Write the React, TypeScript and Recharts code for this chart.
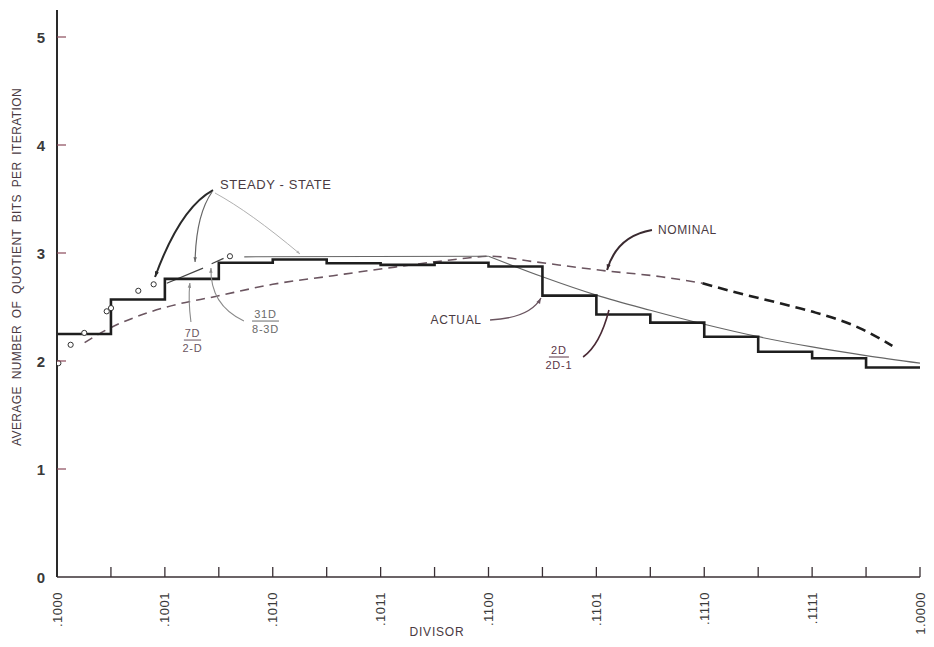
import React from "react";
import { ComposedChart, Line, Scatter, XAxis, YAxis } from "recharts";

/** Quotient bits per iteration vs divisor — step curve, bounds, nominal estimate. */

const W = 934;
const H = 647;
const PLOT = { left: 57, right: 920, top: 10, bottom: 577 };
const X_MIN = 0.5;
const X_MAX = 1.0;
const Y_MAX = 5.25;

// axis ticks (binary fractions of the divisor)
const majorTicks = [0.5, 0.5625, 0.625, 0.6875, 0.75, 0.8125, 0.875, 0.9375, 1.0];
const majorLabels = [".1000", ".1001", ".1010", ".1011", ".1100", ".1101", ".1110", ".1111", "1.0000"];
const minorTicks = [0.53125, 0.59375, 0.65625, 0.71875, 0.78125, 0.84375, 0.90625, 0.96875];
const yTicks = [0, 1, 2, 3, 4, 5];

// actual (step) curve — value holds from each divisor to the next
const actualSteps = [
  { d: 0.5, v: 2.25 },
  { d: 0.53125, v: 2.57 },
  { d: 0.5625, v: 2.76 },
  { d: 0.59375, v: 2.91 },
  { d: 0.625, v: 2.94 },
  { d: 0.65625, v: 2.905 },
  { d: 0.6875, v: 2.89 },
  { d: 0.71875, v: 2.91 },
  { d: 0.75, v: 2.875 },
  { d: 0.78125, v: 2.605 },
  { d: 0.8125, v: 2.43 },
  { d: 0.84375, v: 2.355 },
  { d: 0.875, v: 2.225 },
  { d: 0.90625, v: 2.085 },
  { d: 0.9375, v: 2.025 },
  { d: 0.96875, v: 1.94 },
  { d: 1.0, v: 1.94 },
];

// 2D/(2D-1) bound, right half
const boundRight = [
  { d: 0.75, v: 2.97 },
  { d: 0.78125, v: 2.78 },
  { d: 0.8125, v: 2.61 },
  { d: 0.84375, v: 2.47 },
  { d: 0.875, v: 2.34 },
  { d: 0.90625, v: 2.225 },
  { d: 0.9375, v: 2.13 },
  { d: 0.96875, v: 2.05 },
  { d: 1.0, v: 1.98 },
];

// flat steady-state bound, middle
const boundFlat = [
  { d: 0.6085, v: 2.965 },
  { d: 0.75, v: 2.97 },
];

// 7D/(2-D) and 31D/(8-3D) short segments
const bound7D = [
  { d: 0.5636, v: 2.72 },
  { d: 0.5846, v: 2.86 },
];
const bound31D = [
  { d: 0.5896, v: 2.9 },
  { d: 0.5965, v: 2.95 },
];

// steady-state points (circles)
const steadyPoints = [
  { d: 0.5008, v: 1.98 },
  { d: 0.5079, v: 2.15 },
  { d: 0.5158, v: 2.26 },
  { d: 0.5288, v: 2.46 },
  { d: 0.5313, v: 2.49 },
  { d: 0.5471, v: 2.65 },
  { d: 0.556, v: 2.71 },
  { d: 0.6002, v: 2.97 },
];

// nominal (dashed), split where the pen gets heavier
const nominalA = [
  { d: 0.516, v: 2.17 },
  { d: 0.53, v: 2.3 },
  { d: 0.546, v: 2.41 },
  { d: 0.5635, v: 2.5 },
  { d: 0.5925, v: 2.6 },
  { d: 0.625, v: 2.71 },
  { d: 0.66, v: 2.79 },
  { d: 0.689, v: 2.855 },
  { d: 0.728, v: 2.935 },
  { d: 0.751, v: 2.97 },
  { d: 0.776, v: 2.92 },
  { d: 0.815, v: 2.84 },
  { d: 0.85, v: 2.78 },
  { d: 0.874, v: 2.72 },
];
const nominalB = [
  { d: 0.874, v: 2.72 },
  { d: 0.897, v: 2.62 },
  { d: 0.92, v: 2.53 },
  { d: 0.938, v: 2.455 },
  { d: 0.965, v: 2.305 },
  { d: 0.984, v: 2.14 },
];

// callouts: quadratic curves in data units
const callouts = [
  { from: [0.5904, 3.583], ctrl: [0.5713, 3.417], to: [0.5568, 2.778], color: "#2a2a2a", width: 2, head: 6 },
  { from: [0.5898, 3.565], ctrl: [0.5805, 3.352], to: [0.58, 2.917], color: "#666", width: 1.2, head: 5 },
  { from: [0.5915, 3.556], ctrl: [0.6118, 3.38], to: [0.6408, 2.991], color: "#b0b0b0", width: 1, head: 4 },
  { from: [0.5776, 2.361], ctrl: [0.5759, 2.565], to: [0.577, 2.722], color: "#8a8a8a", width: 1.1, head: 5 },
  { from: [0.6083, 2.37], ctrl: [0.5886, 2.519], to: [0.5892, 2.861], color: "#8a8a8a", width: 1.1, head: 5 },
  { from: [0.7509, 2.38], ctrl: [0.774, 2.398], to: [0.7804, 2.583], color: "#6a5560", width: 1.4, head: 6 },
  { from: [0.8048, 2.037], ctrl: [0.8146, 2.148], to: [0.8198, 2.472], color: "#4a2a35", width: 1.6, head: 0 },
  { from: [0.8447, 3.213], ctrl: [0.8244, 3.157], to: [0.8187, 2.843], color: "#3a2a30", width: 2, head: 6 },
];

const notes = [
  { text: "STEADY - STATE", at: [0.5944, 3.63], anchor: "start", size: 13 },
  { text: "ACTUAL", at: [0.7312, 2.38], anchor: "middle", size: 12 },
  { text: "NOMINAL", at: [0.8482, 3.213], anchor: "start", size: 12 },
];

const fractions = [
  { num: "7D", den: "2-D", at: [0.5785, 2.194], half: 0.005, color: "#6a5560" },
  { num: "31D", den: "8-3D", at: [0.6208, 2.37], half: 0.0078, color: "#6a6a6a" },
  { num: "2D", den: "2D-1", at: [0.7908, 2.037], half: 0.0058, color: "#5a3545" },
];

const FONT = "'Liberation Sans', Arial, sans-serif";
const INK = "#4a3a42";

const sx = (d: number) => PLOT.left + ((d - X_MIN) / (X_MAX - X_MIN)) * (PLOT.right - PLOT.left);
const sy = (v: number) => PLOT.bottom - (v / Y_MAX) * (PLOT.bottom - PLOT.top);

function XTick({ x, y, payload }: any) {
  const i = majorTicks.indexOf(payload.value);
  return (
    <g>
      {payload.value > X_MIN && (
        <line x1={x} x2={x} y1={y} y2={y - 10} stroke="#3a3035" strokeWidth={1.3} />
      )}
      {i >= 0 && (
        <text
          transform={`translate(${x},${y + 15}) rotate(-90)`}
          textAnchor="end"
          dominantBaseline="central"
          fontFamily={FONT}
          fontSize={13}
          letterSpacing={0.5}
          fill="#3a3a3a"
        >
          {majorLabels[i]}
        </text>
      )}
    </g>
  );
}

function YTick({ x, y, payload }: any) {
  return (
    <g>
      {payload.value > 0 && (
        <line x1={x} x2={x + 9} y1={y} y2={y} stroke="#8a4a5a" strokeWidth={1.2} />
      )}
      <text
        x={x - 16}
        y={y}
        textAnchor="middle"
        dominantBaseline="central"
        fontFamily={FONT}
        fontSize={15}
        fontWeight="bold"
        fill="#3a3a3a"
      >
        {payload.value}
      </text>
    </g>
  );
}

function Circle(props: any) {
  return <circle cx={props.cx} cy={props.cy} r={2.6} fill="#fff" stroke="#333" strokeWidth={1} />;
}

function Overlay() {
  return (
    <svg width={W} height={H} style={{ position: "absolute", left: 0, top: 0, pointerEvents: "none" }}>
      {callouts.map((c, k) => {
        const [x0, y0] = [sx(c.from[0]), sy(c.from[1])];
        const [cx, cy] = [sx(c.ctrl[0]), sy(c.ctrl[1])];
        const [x1, y1] = [sx(c.to[0]), sy(c.to[1])];
        const a = Math.atan2(y1 - cy, x1 - cx);
        const h = c.head;
        return (
          <g key={k}>
            <path d={`M${x0},${y0}Q${cx},${cy} ${x1},${y1}`} fill="none" stroke={c.color} strokeWidth={c.width} />
            {h > 0 && (
              <path
                d={`M${x1},${y1}L${x1 - h * Math.cos(a - 0.35)},${y1 - h * Math.sin(a - 0.35)}L${
                  x1 - h * Math.cos(a + 0.35)
                },${y1 - h * Math.sin(a + 0.35)}Z`}
                fill={c.color}
              />
            )}
          </g>
        );
      })}
      {notes.map((n) => (
        <text
          key={n.text}
          x={sx(n.at[0])}
          y={sy(n.at[1])}
          textAnchor={n.anchor as any}
          dominantBaseline="central"
          fontFamily={FONT}
          fontSize={n.size}
          letterSpacing={0.6}
          fill={INK}
        >
          {n.text}
        </text>
      ))}
      {fractions.map((f) => {
        const x = sx(f.at[0]);
        const y = sy(f.at[1]);
        return (
          <g key={f.num} fill={f.color} fontFamily={FONT} fontSize={11} letterSpacing={0.8}>
            <text x={x} y={y - 7} textAnchor="middle" dominantBaseline="central">{f.num}</text>
            <line x1={sx(f.at[0] - f.half)} x2={sx(f.at[0] + f.half)} y1={y} y2={y} stroke={f.color} strokeWidth={1} />
            <text x={x} y={y + 8} textAnchor="middle" dominantBaseline="central">{f.den}</text>
          </g>
        );
      })}
      <text
        transform={`translate(17,267) rotate(-90)`}
        textAnchor="middle"
        dominantBaseline="central"
        fontFamily={FONT}
        fontSize={12}
        letterSpacing={0.4}
        wordSpacing={3}
        fill={INK}
      >
        AVERAGE NUMBER OF QUOTIENT BITS PER ITERATION
      </text>
      <text x={437} y={632} textAnchor="middle" dominantBaseline="central" fontFamily={FONT} fontSize={12} letterSpacing={0.8} fill={INK}>
        DIVISOR
      </text>
    </svg>
  );
}

export default function App() {
  return (
    <div style={{ position: "absolute", left: 0, top: 0, width: W, height: H, background: "#fff" }}>
      <ComposedChart
        width={W}
        height={H}
        margin={{ top: PLOT.top, right: W - PLOT.right, bottom: 0, left: 0 }}
      >
        <XAxis
          dataKey="d"
          type="number"
          domain={[X_MIN, X_MAX]}
          ticks={[...majorTicks, ...minorTicks].sort((a, b) => a - b)}
          height={H - PLOT.bottom}
          tickSize={0}
          tickMargin={0}
          tick={<XTick />}
          axisLine={{ stroke: "#3a3035", strokeWidth: 1.5 }}
          allowDataOverflow
        />
        <YAxis
          dataKey="v"
          type="number"
          domain={[0, Y_MAX]}
          ticks={yTicks}
          width={PLOT.left}
          tickSize={0}
          tickMargin={0}
          tick={<YTick />}
          axisLine={{ stroke: "#2a2a2a", strokeWidth: 2 }}
          allowDataOverflow
        />
        <Line data={nominalA} dataKey="v" type="monotone" stroke="#6b5560" strokeWidth={1.6} strokeDasharray="9 6" dot={false} isAnimationActive={false} />
        <Line data={nominalB} dataKey="v" type="monotone" stroke="#1e1e1e" strokeWidth={2.6} strokeDasharray="10 6" dot={false} isAnimationActive={false} />
        <Line data={boundFlat} dataKey="v" type="linear" stroke="#666" strokeWidth={1.2} dot={false} isAnimationActive={false} />
        <Line data={boundRight} dataKey="v" type="monotone" stroke="#666" strokeWidth={1.2} dot={false} isAnimationActive={false} />
        <Line data={bound7D} dataKey="v" type="linear" stroke="#444" strokeWidth={1.2} dot={false} isAnimationActive={false} />
        <Line data={bound31D} dataKey="v" type="linear" stroke="#444" strokeWidth={1.2} dot={false} isAnimationActive={false} />
        <Line data={actualSteps} dataKey="v" type="stepAfter" stroke="#1e1e1e" strokeWidth={2.6} dot={false} isAnimationActive={false} />
        <Scatter data={steadyPoints} dataKey="v" shape={<Circle />} isAnimationActive={false} />
      </ComposedChart>
      <Overlay />
    </div>
  );
}
